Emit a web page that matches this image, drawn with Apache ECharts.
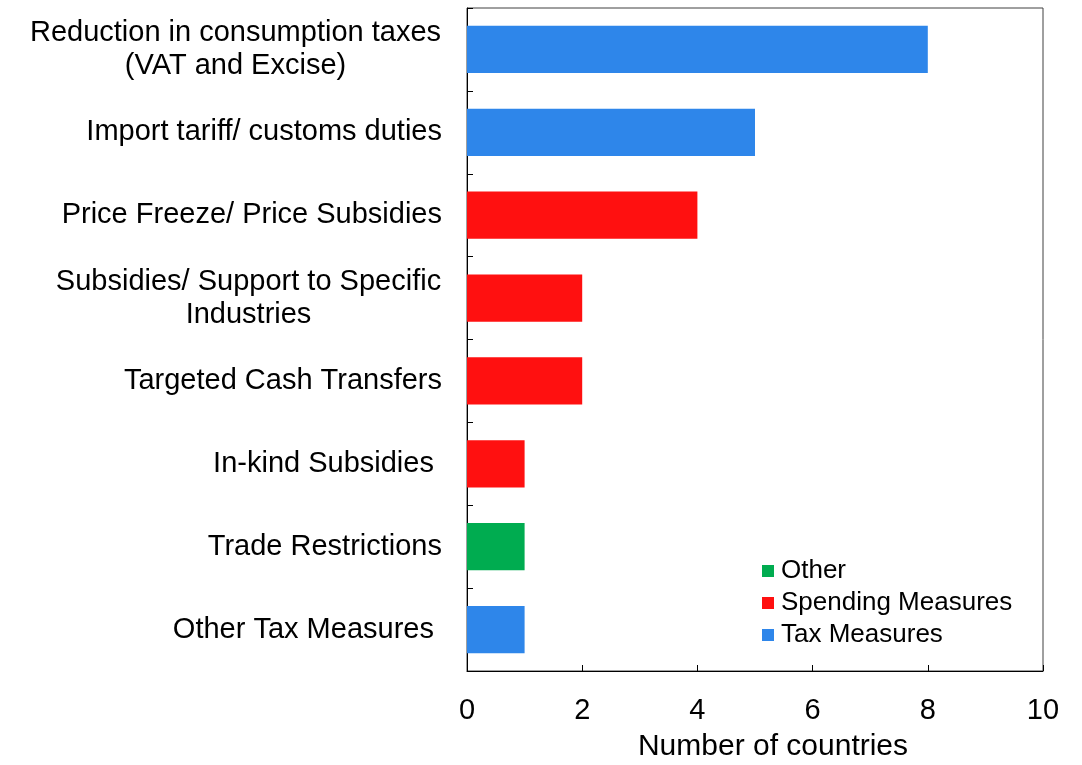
<!DOCTYPE html>
<html>
<head>
<meta charset="utf-8">
<script src="https://cdn.jsdelivr.net/npm/echarts@6/dist/echarts.min.js"></script>
<style>html,body{margin:0;padding:0;background:#fff}#c{width:1082px;height:765px}</style>
</head>
<body>
<div id="c"></div>
<script>
var categories = [
  "Reduction in consumption taxes\n(VAT and Excise)",
  "Import tariff/ customs duties",
  "Price Freeze/ Price Subsidies",
  "Subsidies/ Support to Specific\nIndustries",
  "Targeted Cash Transfers",
  "In-kind Subsidies ",
  "Trade Restrictions",
  "Other Tax Measures "
];
var taxValues      = [8, 5, null, null, null, null, null, 1];
var spendingValues = [null, null, 4, 2, 2, 1, null, null];
var otherValues    = [null, null, null, null, null, null, 1, null];
var xTicks = [0, 2, 4, 6, 8, 10];

var FONT = "Liberation Sans";
var CAT_SIZE = 29;

// measure multi-line labels so their lines can be centred under each other
var cnv = document.createElement('canvas').getContext('2d');
cnv.font = CAT_SIZE + 'px "' + FONT + '"';
var rich = {};
var labelMap = {};
categories.forEach(function (c, i) {
  if (c.indexOf('\n') >= 0) {
    var lines = c.split('\n');
    var w = Math.max.apply(null, lines.map(function (l) { return cnv.measureText(l).width; }));
    var key = 'm' + i;
    rich[key] = { width: Math.ceil(w) + 1, align: 'center', fontSize: CAT_SIZE, fontFamily: FONT, color: '#000', lineHeight: 33 };
    labelMap[c] = lines.map(function (l) { return '{' + key + '|' + l + '}'; }).join('\n');
  }
});

var chart = echarts.init(document.getElementById('c'));
function ser(name, data, color) {
  return {
    name: name, type: 'bar', stack: 'all', data: data, barWidth: '57%',
    itemStyle: { color: color }
  };
}
chart.setOption({
  animation: false,
  textStyle: { fontFamily: FONT },
  grid: { left: 467, right: 39, top: 8, bottom: 94, show: true, borderColor: '#404040', borderWidth: 1,
          containLabel: false, outerBoundsMode: 'none' },
  legend: {
    orient: 'vertical', left: 757, top: 553,
    data: ['Other', 'Spending Measures', 'Tax Measures'],
    itemWidth: 12, itemHeight: 12, itemGap: 6, icon: 'rect',
    textStyle: { fontFamily: FONT, fontSize: 26, lineHeight: 26, color: '#000', padding: [0, 0, 0, 2] }
  },
  xAxis: {
    type: 'value', min: xTicks[0], max: xTicks[xTicks.length - 1], interval: 2,
    name: 'Number of countries', nameLocation: 'middle', nameGap: 61,
    nameTextStyle: { fontFamily: FONT, fontSize: 30, color: '#000', padding: [0, 0, 0, 36] },
    axisLine: { show: true, lineStyle: { color: '#000' } },
    axisTick: { show: true, inside: true, length: 6, lineStyle: { color: '#000' } },
    axisLabel: { fontFamily: FONT, fontSize: 29, color: '#000', margin: 25 },
    splitLine: { show: false }
  },
  yAxis: {
    type: 'category', data: categories, inverse: true,
    axisLine: { show: true, lineStyle: { color: '#000' } },
    axisTick: { show: true, inside: true, length: 6, lineStyle: { color: '#000' } },
    axisLabel: {
      fontFamily: FONT, fontSize: CAT_SIZE, color: '#000', margin: 25, lineHeight: 33, align: 'right',
      rich: rich,
      formatter: function (v) { return labelMap[v] || v; }
    }
  },
  series: [
    ser('Tax Measures', taxValues, '#2E86EA'),
    ser('Spending Measures', spendingValues, '#FF1010'),
    ser('Other', otherValues, '#00AC50')
  ]
});
</script>
</body>
</html>
